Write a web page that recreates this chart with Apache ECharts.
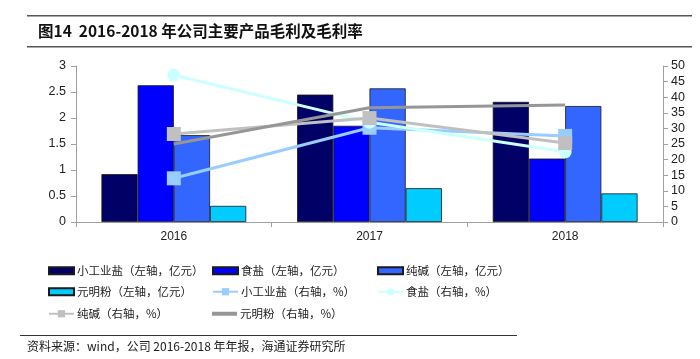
<!DOCTYPE html>
<html><head><meta charset="utf-8">
<script src="https://cdn.jsdelivr.net/npm/echarts@6/dist/echarts.min.js"></script>
<style>html,body{margin:0;padding:0;background:#fff}#c{width:700px;height:359px}</style>
</head><body><div id="c"></div>
<script>
const categories = ['2016', '2017', '2018'];
const leftTicks = [0, 0.5, 1, 1.5, 2, 2.5, 3];
const rightTicks = [0, 5, 10, 15, 20, 25, 30, 35, 40, 45, 50];
const barIndustrialSalt = [0.92, 2.45, 2.31];
const barTableSalt = [2.63, 1.85, 1.22];
const barSodaAsh = [1.67, 2.57, 2.23];
const barSodiumSulfate = [0.31, 0.65, 0.55];
const pctIndustrialSalt = [14.0, 30.2, 27.6];
const pctTableSalt = [47.1, 32.0, 22.5];
const pctSodaAsh = [28.2, 33.3, 25.3];
const pctSodiumSulfate = [25.0, 36.6, 37.5];

const names = ['小工业盐（左轴，亿元）','食盐（左轴，亿元）','纯碱（左轴，亿元）','元明粉（左轴，亿元）',
  '小工业盐（右轴，%）','食盐（右轴，%）','纯碱（右轴，%）','元明粉（右轴，%）'];

const chart = echarts.init(document.getElementById('c'), null, {renderer: 'canvas'});
const font = 'Liberation Sans, Arial, sans-serif';
const cjk = '"Noto Sans CJK SC", sans-serif';
const axisGray = '#a0a0a0';

function bar(name, data, color) {
  return {name, type: 'bar', data, yAxisIndex: 0, barGap: 0, barCategoryGap: '26%',
    itemStyle: {color, borderColor: '#1a1a1a', borderWidth: 0.8}};
}
function line(name, data, color, symbol, size) {
  return {name, type: 'line', data, yAxisIndex: 1, symbol, symbolSize: size, showSymbol: symbol !== 'none',
    lineStyle: {color, width: 3}, itemStyle: {color}, z: 5};
}
const colX = [48, 212, 377];
const rowY = [270, 291, 313];
function legendItem(i, opts) {
  const col = i % 3, row = Math.floor(i / 3);
  const h = (opts && opts.h) || 7;
  return Object.assign({left: colX[col], top: rowY[row] - 5, itemWidth: 25, itemHeight: h, itemGap: 0,
    padding: 0, selectedMode: false, data: [{name: names[i]}],
    textStyle: {fontFamily: cjk, fontSize: 11.5, color: '#222', padding: [0, 0, 0, -2]}}, opts ? opts.extra : {});
}

chart.setOption({
  animation: false,
  graphic: [
    {type: 'rect', shape: {x: 27, y: 15, width: 665, height: 1.5}, style: {fill: '#555'}},
    {type: 'rect', shape: {x: 27, y: 46, width: 665, height: 1.5}, style: {fill: '#555'}},
    {type: 'text', left: 38, top: 23, style: {text: '图14  2016-2018 年公司主要产品毛利及毛利率',
      font: 'bold 15.5px ' + cjk, fill: '#111'}},
    {type: 'rect', shape: {x: 20, y: 335, width: 497, height: 1}, style: {fill: '#333'}},
    {type: 'text', left: 27, top: 340, style: {text: '资料来源：wind，公司 2016-2018 年年报，海通证券研究所',
      font: '12px ' + cjk, fill: '#222'}}
  ],
  grid: {left: 76, right: 37, top: 66, bottom: 137},
  legend: [
    legendItem(0, {extra: {icon: 'rect'}}),
    legendItem(1, {extra: {icon: 'rect'}}),
    legendItem(2, {extra: {icon: 'rect'}}),
    legendItem(3, {extra: {icon: 'rect'}}),
    legendItem(4, {h: 9}),
    legendItem(5, {h: 9}),
    legendItem(6, {h: 9}),
    legendItem(7, {h: 4, extra: {icon: 'rect'}})
  ],
  xAxis: {type: 'category', data: categories,
    axisLine: {lineStyle: {color: axisGray}}, axisTick: {show: true, length: 5, lineStyle: {color: axisGray}},
    axisLabel: {fontFamily: font, fontSize: 12, color: '#222', margin: 9}},
  yAxis: [
    {type: 'value', min: 0, max: 3, interval: 0.5, position: 'left',
      axisLine: {show: true, lineStyle: {color: axisGray}},
      axisTick: {show: true, length: 5, lineStyle: {color: axisGray}},
      axisLabel: {fontFamily: font, fontSize: 12.5, color: '#222', margin: 10,
        formatter: v => leftTicks.includes(v) ? String(v) : ''},
      splitLine: {show: false}},
    {type: 'value', min: 0, max: 50, interval: 5, position: 'right',
      axisLine: {show: true, lineStyle: {color: axisGray}},
      axisTick: {show: true, length: 5, lineStyle: {color: axisGray}},
      axisLabel: {fontFamily: font, fontSize: 12.5, color: '#222', margin: 8,
        formatter: v => rightTicks.includes(v) ? String(v) : ''},
      splitLine: {show: false}}
  ],
  series: [
    bar(names[0], barIndustrialSalt, '#000066'),
    bar(names[1], barTableSalt, '#0000ff'),
    bar(names[2], barSodaAsh, '#3366ff'),
    bar(names[3], barSodiumSulfate, '#00ccff'),
    line(names[4], pctIndustrialSalt, '#99ccff', 'rect', 14),
    line(names[5], pctTableSalt, '#ccffff', 'circle', 13),
    line(names[6], pctSodaAsh, '#c0c0c0', 'rect', 14),
    line(names[7], pctSodiumSulfate, '#969696', 'none', 0)
  ]
});
</script></body></html>
